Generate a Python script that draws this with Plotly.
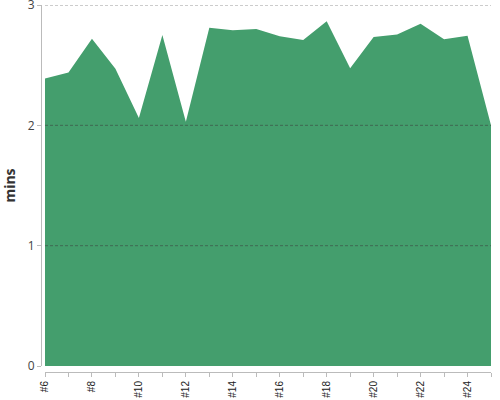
import plotly.graph_objects as go

categories = ["#" + str(i) for i in range(6, 26)]
values = [2.39, 2.44, 2.72, 2.47, 2.06, 2.75, 2.03, 2.81, 2.79, 2.80, 2.74, 2.71,
          2.865, 2.475, 2.735, 2.755, 2.845, 2.715, 2.745, 2.0]
y_ticks = [0, 1, 2, 3]
grid_values = [1, 2, 3]

FILL = "#449e6d"
FONT = "Open Sans, sans-serif"

fig = go.Figure()
fig.add_trace(go.Scatter(
    x=categories, y=values, mode="lines", fill="tozeroy",
    line=dict(color=FILL, width=0), fillcolor=FILL, hoverinfo="x+y",
))

for g in grid_values:
    fig.add_shape(type="line", xref="x domain", yref="y", x0=0, x1=1, y0=g, y1=g,
                  line=dict(color="rgba(60,60,60,0.55)" if g != 3 else "#999",
                            width=1, dash="3px,2px"), layer="above")

fig.update_layout(
    width=500, height=400,
    margin=dict(l=41, r=9, t=5, b=28, autoexpand=False),
    paper_bgcolor="white", plot_bgcolor="white",
    showlegend=False,
    font=dict(family=FONT, color="#444"),
    xaxis=dict(
        type="category", range=[0, len(categories) - 1],
        domain=[0.0089, 1], anchor="free", position=0, automargin=False,
        tickmode="array", tickvals=categories[::2], ticktext=categories[::2],
        tickangle=-90, tickfont=dict(size=10, color="#222", family="Liberation Sans, Arial, sans-serif"),
        ticklabeloverflow="allow",
        showgrid=False, showline=True, linecolor="#bbb", linewidth=1,
        ticks="outside", ticklen=4, tickcolor="#bbb",
        minor=dict(tickvals=categories[1::2], ticks="outside", ticklen=4, tickcolor="#bbb"),
        zeroline=False,
    ),
    yaxis=dict(
        range=[0, 3], domain=[0.0163, 1], anchor="free", position=0, automargin=False,
        tickvals=y_ticks, tickfont=dict(size=12, color="#444"),
        ticklabeloverflow="allow",
        showgrid=False, showline=True, linecolor="#bbb", linewidth=1,
        ticks="outside", ticklen=4, tickcolor="#bbb",
        zeroline=False,
        title=dict(text="<b>mins</b>", font=dict(size=14, color="#333"), standoff=12),
    ),
)

fig.write_html("out.html", config={"displayModeBar": False},
               post_script="document.body.style.margin='0';")
